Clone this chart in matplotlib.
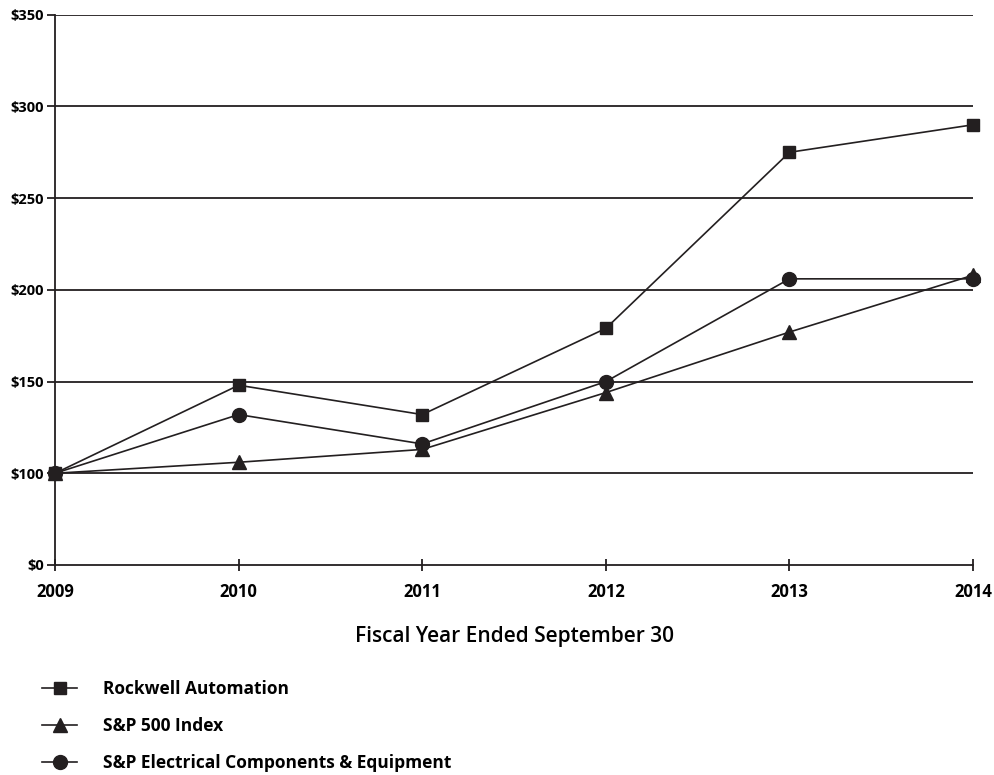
import matplotlib
matplotlib.use("Agg")
import matplotlib.pyplot as plt
import numpy as np

plt.rcParams['font.family'] = ['Open Sans', 'DejaVu Sans']

years = ['2009', '2010', '2011', '2012', '2013', '2014']
rockwell = [100, 148, 132, 179, 275, 290]
sp500 = [100, 106, 113, 144, 177, 208]
elec = [100, 132, 116, 150, 206, 206]
y_ticks = [0, 100, 150, 200, 250, 300, 350]
y_labels = ['$0', '$100', '$150', '$200', '$250', '$300', '$350']

# y axis: $0-$100 gets the same room as each $50 step above it
def fwd(v):
    v = np.asarray(v, dtype=float)
    return np.where(v <= 100, v / 100.0, 1 + (v - 100) / 50.0)

def inv(p):
    p = np.asarray(p, dtype=float)
    return np.where(p <= 1, p * 100.0, 100 + (p - 1) * 50.0)

fig = plt.figure(figsize=(9.95, 7.75), dpi=100)
ax = fig.add_axes([0.0553, 0.271, 0.9227, 0.710])
ax.set_yscale('function', functions=(fwd, inv))

x = np.arange(len(years))
lw = 1.2
ax.plot(x, rockwell, color='#231f20', lw=lw, marker='s', ms=9, label='Rockwell Automation', zorder=3, clip_on=False)
ax.plot(x, sp500, color='#231f20', lw=lw, marker='^', ms=10, label='S&P 500 Index', zorder=3, clip_on=False)
ax.plot(x, elec, color='#231f20', lw=lw, marker='o', ms=10, label='S&P Electrical Components & Equipment', zorder=3, clip_on=False)

for t in y_ticks[1:]:
    ax.axhline(t, color='#231f20', lw=1.3, zorder=1)

ax.set_xlim(0, len(years) - 1)
ax.set_ylim(0, 350)
ax.set_yticks(y_ticks)
ax.set_yticklabels(y_labels, fontsize=10.5, fontweight='bold')
ax.set_xticks(x)
ax.set_xticklabels(years, fontsize=12, fontweight='bold')
ax.tick_params(axis='y', direction='out', length=6, width=1.3, color='#231f20', pad=2)
ax.tick_params(axis='x', direction='inout', length=8, width=1.3, color='#231f20', pad=9)

for s in ['top', 'right']:
    ax.spines[s].set_visible(False)
for s in ['left', 'bottom']:
    ax.spines[s].set_linewidth(1.3)
    ax.spines[s].set_color('#231f20')

ax.set_xlabel('Fiscal Year Ended September 30', fontsize=15, fontweight='semibold', labelpad=18)

fig.legend(loc='upper left', bbox_to_anchor=(0.027, 0.143), frameon=False,
           prop={'size': 12.5, 'weight': 'bold'}, handlelength=2.0, labelspacing=1.1,
           handletextpad=1.5)

fig.savefig('out.png', dpi=100)
